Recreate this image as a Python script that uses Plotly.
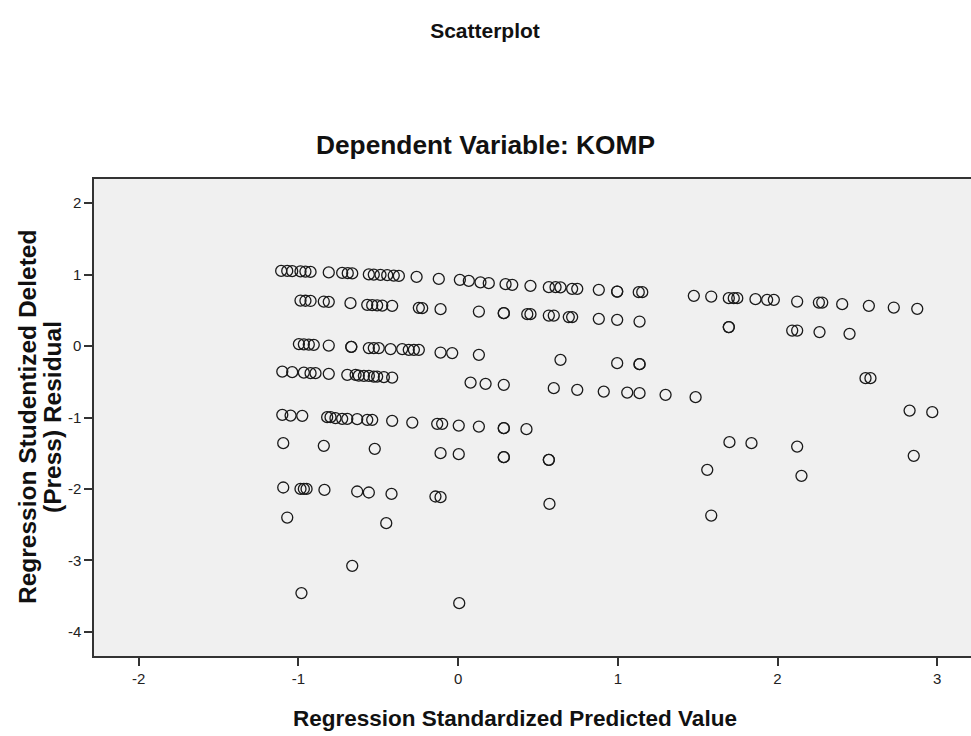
import plotly.graph_objects as go

# Regression Standardized Predicted Value (x) and Studentized Deleted Residual (y), read by band
band_a_x = [-1.108, -1.070, -1.039, -0.987, -0.956, -0.924, -0.810, -0.726, -0.691, -0.663,
            -0.559, -0.528, -0.486, -0.444, -0.403, -0.371, -0.260, -0.121, 0.011, 0.067,
            0.140, 0.192, 0.297, 0.339, 0.453, 0.568, 0.610, 0.641, 0.714, 0.746,
            0.881, 0.996, 0.996, 1.131, 1.153, 1.476, 1.585, 1.695, 1.726, 1.748,
            1.862, 1.935, 1.977, 2.123, 2.259, 2.280, 2.405, 2.572, 2.728, 2.875]
band_a_y = [1.052, 1.052, 1.048, 1.045, 1.043, 1.038, 1.031, 1.024, 1.020, 1.017,
            1.003, 1.000, 0.997, 0.992, 0.987, 0.982, 0.968, 0.940, 0.927, 0.913,
            0.892, 0.880, 0.866, 0.857, 0.843, 0.824, 0.824, 0.822, 0.801, 0.801,
            0.787, 0.763, 0.763, 0.754, 0.754, 0.703, 0.693, 0.670, 0.670, 0.670,
            0.656, 0.647, 0.647, 0.623, 0.609, 0.609, 0.586, 0.563, 0.539, 0.521]

band_b_x = [-0.987, -0.956, -0.924, -0.841, -0.810, -0.674, -0.569, -0.538, -0.507, -0.475,
            -0.413, -0.246, -0.225, -0.110, 0.130, 0.286, 0.286, 0.433, 0.453, 0.568,
            0.599, 0.693, 0.714, 0.881, 0.996, 1.136, 1.695, 1.695, 2.092, 2.123,
            2.263, 2.451]
band_b_y = [0.637, 0.634, 0.631, 0.623, 0.619, 0.600, 0.577, 0.572, 0.570, 0.567,
            0.563, 0.535, 0.530, 0.516, 0.483, 0.460, 0.460, 0.446, 0.446, 0.427,
            0.427, 0.405, 0.405, 0.381, 0.367, 0.343, 0.265, 0.265, 0.217, 0.217,
            0.195, 0.171]

band_c_x = [-0.997, -0.966, -0.935, -0.904, -0.810, -0.669, -0.669, -0.559, -0.528, -0.497,
            -0.423, -0.350, -0.309, -0.277, -0.246, -0.110, -0.037, 0.130, 0.641, 0.996,
            1.136, 1.136, 2.551, 2.582]
band_c_y = [0.027, 0.024, 0.021, 0.017, 0.007, -0.011, -0.011, -0.029, -0.029, -0.029,
            -0.043, -0.043, -0.053, -0.053, -0.053, -0.091, -0.099, -0.123, -0.193, -0.239,
            -0.253, -0.253, -0.449, -0.449]

band_d_x = [-1.101, -1.039, -0.966, -0.924, -0.893, -0.810, -0.694, -0.642, -0.622, -0.590,
            -0.559, -0.528, -0.507, -0.465, -0.413, 0.078, 0.172, 0.286, 0.599, 0.746,
            0.912, 1.059, 1.136, 1.299, 1.487]
band_d_y = [-0.357, -0.365, -0.371, -0.379, -0.379, -0.389, -0.403, -0.403, -0.413, -0.417,
            -0.417, -0.427, -0.427, -0.435, -0.441, -0.511, -0.529, -0.543, -0.589, -0.613,
            -0.637, -0.651, -0.659, -0.683, -0.715]

band_e_x = [-1.101, -1.049, -0.976, -0.820, -0.799, -0.768, -0.726, -0.694, -0.632, -0.569,
            -0.538, -0.413, -0.287, -0.131, -0.100, 0.004, 0.130, 0.286, 0.286, 0.428,
            2.827, 2.969]
band_e_y = [-0.963, -0.973, -0.977, -0.995, -0.995, -1.009, -1.019, -1.019, -1.023, -1.033,
            -1.033, -1.047, -1.071, -1.089, -1.089, -1.113, -1.127, -1.149, -1.149, -1.163,
            -0.903, -0.925]

band_f_x = [-1.095, -0.841, -0.522, -0.110, 0.004, 0.286, 0.286, 0.568, 0.568, 1.699,
            1.837, 2.123, 2.853, 2.150, 1.560]
band_f_y = [-1.359, -1.397, -1.439, -1.499, -1.513, -1.555, -1.555, -1.593, -1.593, -1.345,
            -1.359, -1.407, -1.537, -1.817, -1.733]

band_g_x = [-1.095, -0.987, -0.966, -0.949, -0.837, -0.632, -0.559, -0.417, -0.142, -0.110,
            0.572, -1.070, -0.450, 1.585, -0.663, -0.981, 0.007]
band_g_y = [-1.980, -1.999, -1.999, -1.999, -2.013, -2.036, -2.050, -2.069, -2.106, -2.115,
            -2.209, -2.400, -2.479, -2.372, -3.076, -3.458, -3.598]

x_ticks = [-2, -1, 0, 1, 2, 3]
y_ticks = [-4, -3, -2, -1, 0, 1, 2]

xs = band_a_x + band_b_x + band_c_x + band_d_x + band_e_x + band_f_x + band_g_x
ys = band_a_y + band_b_y + band_c_y + band_d_y + band_e_y + band_f_y + band_g_y

FONT = "Liberation Sans, Arial, sans-serif"

# body margin is removed (see post_script) -> figure coords = page coords
W, H = 971, 736
L, T = 94, 179
B = H - 656
PW, PH = W - L, H - T - B


def px(xpage):
    return (xpage - L) / PW


def py(ypage):
    return 1 - (ypage - T) / PH


fig = go.Figure()
fig.add_trace(go.Scatter(
    x=xs, y=ys, mode="markers",
    marker=dict(symbol="circle-open", size=11, color="#1a1a1a", line=dict(width=1.3)),
    showlegend=False, hoverinfo="x+y",
))

fig.update_layout(
    width=W, height=H,
    margin=dict(l=L, r=0, t=T, b=B, autoexpand=False),
    paper_bgcolor="white",
    plot_bgcolor="#f0f0f0",
    font=dict(family=FONT, size=15, color="#222"),
    title=dict(text="<b>Scatterplot</b>", x=485 / W, xanchor="center",
               y=1 - 31 / H, yanchor="middle", yref="container",
               font=dict(size=21, color="#111", family=FONT)),
    xaxis=dict(range=[-2.28, -2.28 + PW / 159.7], tickvals=x_ticks,
               ticktext=[str(v) for v in x_ticks],
               showgrid=False, zeroline=False, showline=True, linecolor="#333", linewidth=1.5,
               mirror=True, ticks="outside", ticklen=8, tickcolor="#333", tickwidth=1.5,
               tickfont=dict(size=15, color="#222")),
    yaxis=dict(range=[-4.338, 2.338], tickvals=y_ticks, ticktext=[str(v) for v in y_ticks],
               showgrid=False, zeroline=False, showline=True, linecolor="#333", linewidth=1.5,
               mirror=False, ticks="outside", ticklen=8, tickcolor="#333", tickwidth=1.5,
               tickfont=dict(size=15, color="#222")),
    annotations=[
        dict(text="<b>Dependent Variable: KOMP</b>", xref="paper", yref="paper",
             x=px(485), y=py(145), xanchor="center", yanchor="middle",
             showarrow=False, font=dict(size=26.3, color="#111", family=FONT)),
        dict(text="<b>Regression Standardized Predicted Value</b>", xref="paper", yref="paper",
             x=px(515), y=py(718), xanchor="center", yanchor="middle",
             showarrow=False, font=dict(size=22.5, color="#111", family=FONT)),
        dict(text="<b>Regression Studentized Deleted</b>", xref="paper",
             yref="paper", x=px(27), y=py(417), xanchor="center", yanchor="middle",
             textangle=-90, showarrow=False, font=dict(size=24.5, color="#111", family=FONT)),
        dict(text="<b>(Press) Residual</b>", xref="paper",
             yref="paper", x=px(52), y=py(417), xanchor="center", yanchor="middle",
             textangle=-90, showarrow=False, font=dict(size=24.5, color="#111", family=FONT)),
    ],
)

fig.write_html("out.html", config={"displayModeBar": False},
               post_script="document.body.style.margin='0';document.body.style.overflow='hidden';")
